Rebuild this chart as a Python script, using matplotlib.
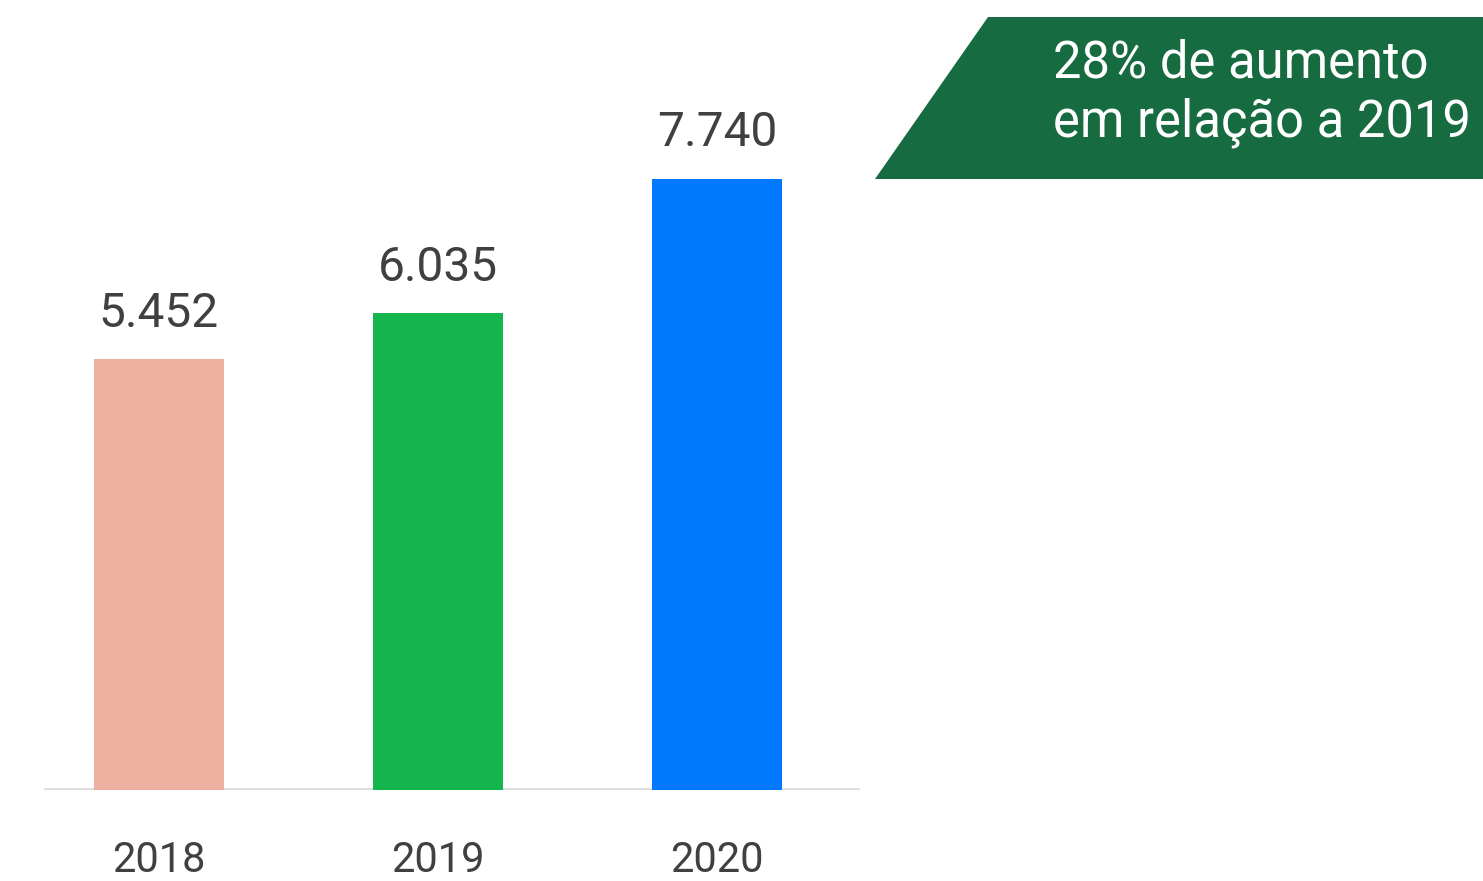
import matplotlib.pyplot as plt
from matplotlib.patches import Polygon

# Annual totals
years = ["2018", "2019", "2020"]
totals = [5452, 6035, 7740]
bar_colors = ["#EEB0A0", "#15B54E", "#0079FF"]
banner_lines = ["28% de aumento", "em relação a 2019"]

W, H = 1483, 881
text_color = "#404040"

plt.rcParams["font.family"] = ["Roboto", "DejaVu Sans"]

fig = plt.figure(figsize=(W / 100, H / 100), dpi=100)

# Axes spanning from the baseline to the top of the canvas
left, right, base = 44, 860, 790
ax = fig.add_axes([left / W, (H - base) / H, (right - left) / W, base / H])

x = range(len(years))
ax.axhline(0, color="#DADADA", lw=2.6, zorder=1)
bars = ax.bar(x, totals, width=0.466, color=bar_colors, zorder=2)

labels = [f"{v:,}".replace(",", ".") for v in totals]
ax.bar_label(bars, labels=labels, padding=16, fontsize=34.5, color=text_color)

ax.set_xlim(-0.412, 2.513)
ax.set_ylim(0, 10000)
ax.set_xticks(list(x), years)
ax.tick_params(axis="x", length=0, pad=36, labelsize=30, labelcolor=text_color)
ax.set_yticks([])
for spine in ax.spines.values():
    spine.set_visible(False)

# Green banner in the top-right corner
pts = [(988, 17), (W, 17), (W, 179), (875, 179)]
banner = Polygon([(px / W, 1 - py / H) for px, py in pts], closed=True,
                 transform=fig.transFigure, facecolor="#176B40", edgecolor="none")
fig.patches.append(banner)
fig.text(1053 / W, 1 - 78 / H, banner_lines[0], color="white", fontsize=36.5,
         ha="left", va="baseline")
fig.text(1053 / W, 1 - 137 / H, banner_lines[1], color="white", fontsize=36.5,
         ha="left", va="baseline")

fig.savefig("out.png", dpi=100)
